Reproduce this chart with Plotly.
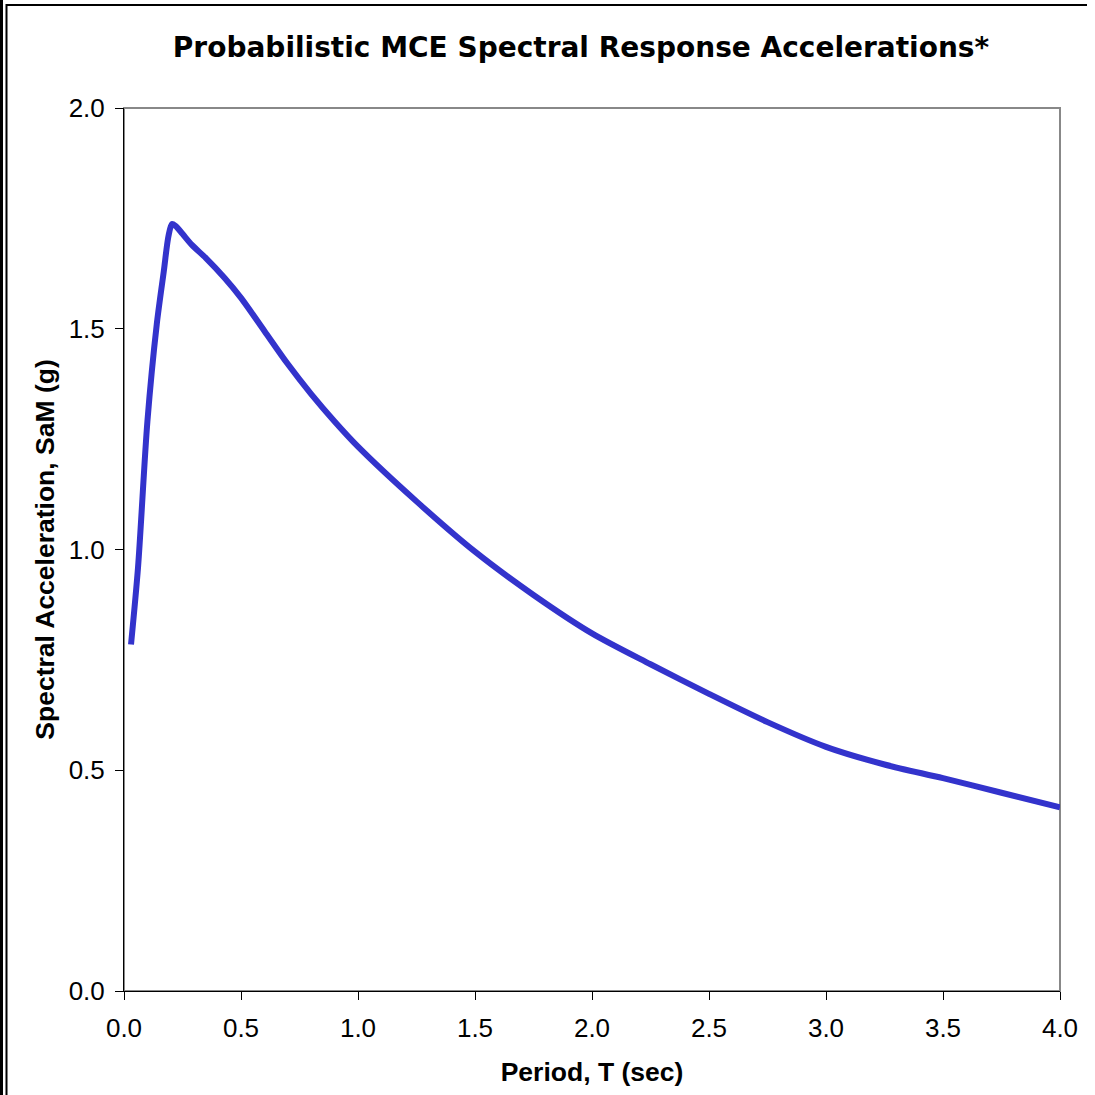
import plotly.graph_objects as go

# Probabilistic MCE spectrum: period (s) vs spectral acceleration SaM (g)
period = [0.03, 0.06, 0.10, 0.14, 0.17, 0.19, 0.205, 0.22, 0.25, 0.29, 0.35, 0.43, 0.50,
          0.60, 0.70, 0.80, 0.90, 1.00, 1.25, 1.50, 1.75, 2.00, 2.25, 2.50,
          2.75, 3.00, 3.25, 3.50, 3.75, 4.00]
sa_mce = [0.785, 0.960, 1.290, 1.510, 1.630, 1.710, 1.737, 1.733, 1.715, 1.690, 1.660, 1.615, 1.570,
          1.495, 1.420, 1.352, 1.290, 1.233, 1.109, 0.995, 0.897, 0.810, 0.740, 0.673,
          0.609, 0.553, 0.513, 0.482, 0.449, 0.416]

x_ticks = [0.0, 0.5, 1.0, 1.5, 2.0, 2.5, 3.0, 3.5, 4.0]
y_ticks = [0.0, 0.5, 1.0, 1.5, 2.0]

W, H = 1095, 1095
ML, MR, MT, MB = 124, 35, 108, 104
PW, PH = W - ML - MR, H - MT - MB


def px_x(p):
    return (p - ML) / PW


def px_y(p):
    return 1 - (p - MT) / PH


fig = go.Figure()
fig.add_trace(go.Scatter(
    x=period, y=sa_mce, mode="lines",
    line=dict(color="#3333CC", width=6, shape="spline", smoothing=0.8),
    hoverinfo="x+y", showlegend=False,
))

tick_font = dict(family="Liberation Sans, Arial, sans-serif", size=26, color="black")
title_font = dict(family="Liberation Sans, Arial, sans-serif", size=26.5, color="black")

fig.update_layout(
    width=W, height=H,
    margin=dict(l=ML, r=MR, t=MT, b=MB),
    paper_bgcolor="white", plot_bgcolor="white",
    title=dict(
        text="<b>Probabilistic MCE Spectral Response Accelerations*</b>",
        font=dict(family="DejaVu Sans, Verdana, sans-serif", size=28, color="black"),
        x=px_x(581), xref="paper", xanchor="center",
        y=1 - 47 / H, yref="container", yanchor="middle",
    ),
    xaxis=dict(
        range=[0, 4], tickvals=x_ticks, ticktext=[f"{v:.1f}" for v in x_ticks],
        showgrid=False, zeroline=False, showline=True, linecolor="black", linewidth=1,
        ticks="outside", ticklen=8, tickcolor="black", tickfont=tick_font,
        ticklabelstandoff=6,
        title=dict(text="<b>Period, T (sec)</b>", font=title_font, standoff=20),
    ),
    yaxis=dict(
        range=[0, 2], tickvals=y_ticks, ticktext=[f"{v:.1f}" for v in y_ticks],
        showgrid=False, zeroline=False, showline=True, linecolor="black", linewidth=1,
        ticks="outside", ticklen=8, tickcolor="black", tickfont=tick_font,
        ticklabelstandoff=5,
        title=dict(text="<b>Spectral Acceleration, SaM (g)</b>", font=title_font, standoff=6),
    ),
    shapes=[
        # grey plot-area frame (top and right edges)
        dict(type="rect", xref="x domain", yref="y domain", x0=0, x1=1, y0=0, y1=1,
             line=dict(color="#888888", width=2), layer="below"),
        # outer chart frame
        dict(type="rect", xref="paper", yref="paper",
             x0=px_x(0), x1=px_x(3), y0=px_y(H), y1=px_y(0),
             fillcolor="black", line=dict(width=0)),
        dict(type="line", xref="paper", yref="paper",
             x0=px_x(6.5), x1=px_x(6.5), y0=px_y(H), y1=px_y(4),
             line=dict(color="black", width=2)),
        dict(type="line", xref="paper", yref="paper",
             x0=px_x(6), x1=px_x(1087), y0=px_y(5), y1=px_y(5),
             line=dict(color="black", width=2)),
    ],
)

fig.write_html("out.html")
